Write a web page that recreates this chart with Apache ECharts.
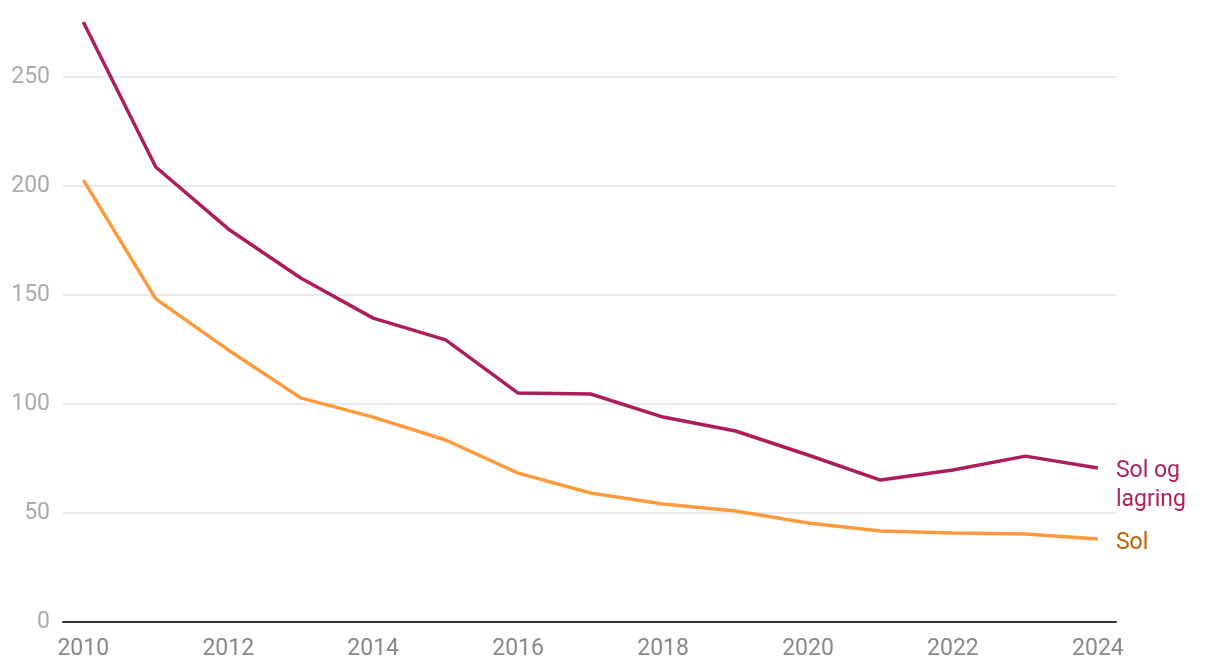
<!DOCTYPE html>
<html>
<head>
<meta charset="utf-8">
<script src="https://cdn.jsdelivr.net/npm/echarts@6/dist/echarts.min.js"></script>
<style>
html,body{margin:0;padding:0;background:#fff;}
#chart{width:1220px;height:672px;}
</style>
</head>
<body>
<div id="chart"></div>
<script>
const years = [2010,2011,2012,2013,2014,2015,2016,2017,2018,2019,2020,2021,2022,2023,2024];
const solOgLagring = [275.2,208.7,180.3,157.8,139.4,129.4,105,104.6,94,87.6,76.6,65.1,69.7,76.1,70.6];
const sol = [202.8,148.2,124.8,102.8,94,83.5,68.3,59.2,54.1,50.9,45.4,41.7,40.8,40.4,38.1];
const xTicks = [2010,2012,2014,2016,2018,2020,2022,2024];
const seriesNames = ['Sol og\nlagring','Sol'];

const chart = echarts.init(document.getElementById('chart'));
function pairs(vals){ return years.map((y,i)=>[y, vals[i]]); }
chart.setOption({
  animation:false,
  textStyle:{fontFamily:'Roboto'},
  grid:{left:63,right:104,top:77,bottom:50},
  xAxis:{
    type:'value', min:2009.72, max:2024.25,
    axisLine:{show:true,lineStyle:{color:'#333',width:2}},
    axisTick:{show:false},
    splitLine:{show:false},
    axisLabel:{customValues:xTicks, formatter:v=>String(v), color:'#888', fontSize:23, margin:16, fontFamily:'Roboto'}
  },
  yAxis:{
    type:'value', min:0, max:250, interval:50,
    axisLine:{show:false}, axisTick:{show:false},
    splitLine:{lineStyle:{color:'#e3e3e8',width:1.5}},
    axisLabel:{color:'#aaa', fontSize:23, margin:13, fontFamily:'Roboto'}
  },
  series:[
    {name:seriesNames[0], type:'line', data:pairs(solOgLagring), symbol:'none', clip:false,
     lineStyle:{color:'#ad1d5c',width:3.5}, itemStyle:{color:'#ad1d5c'},
     endLabel:{show:true, formatter:'{a}', color:'#b01f5f', fontSize:23, distance:18, offset:[0,18], lineHeight:29, align:'left', fontFamily:'Roboto'}},
    {name:seriesNames[1], type:'line', data:pairs(sol), symbol:'none', clip:false,
     lineStyle:{color:'#ff9a3c',width:3.5}, itemStyle:{color:'#ff9a3c'},
     endLabel:{show:true, formatter:'{a}', color:'#c06000', fontSize:23, distance:18, offset:[0,4], fontFamily:'Roboto'}}
  ]
});
</script>
</body>
</html>
